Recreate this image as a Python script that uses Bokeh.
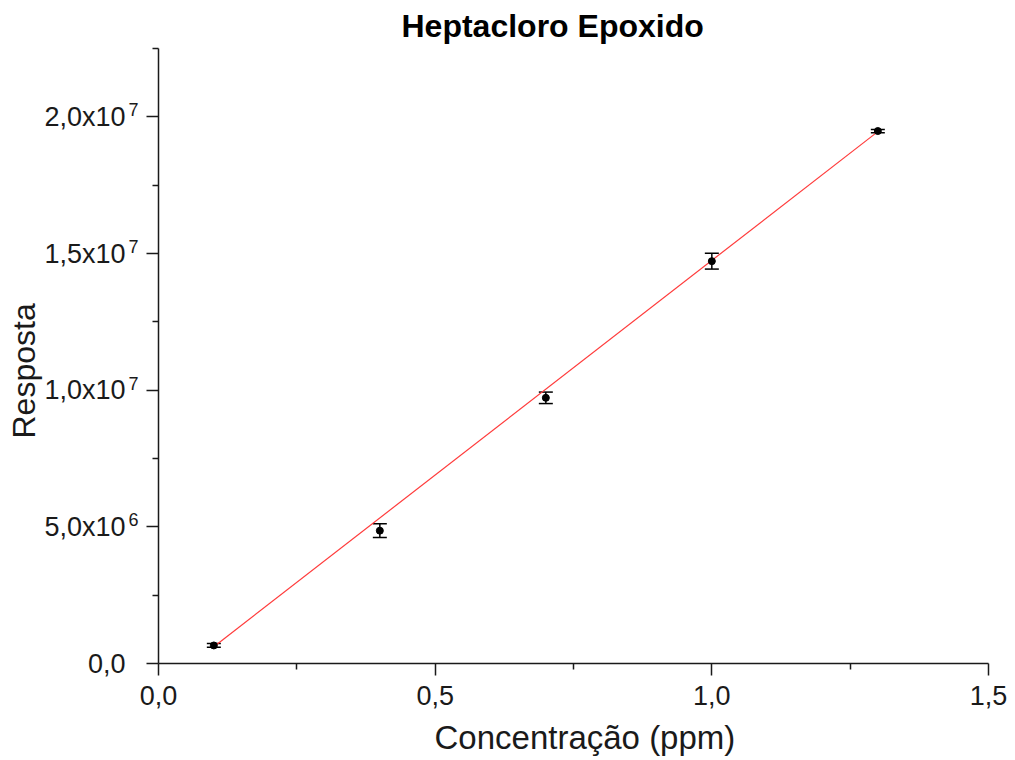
import numpy as np
from bokeh.plotting import figure
from bokeh.models import (Range1d, FixedTicker, CustomJSTickFormatter, Whisker,
                          ColumnDataSource, TeeHead, Title, LinearAxis)
from bokeh.embed import file_html
from bokeh.resources import INLINE

# Calibration data: concentration (ppm), mean response, standard deviation
conc = [0.1, 0.4, 0.7, 1.0, 1.3]
resp = [0.66e6, 4.86e6, 9.72e6, 14.72e6, 19.48e6]
err = [0.07e6, 0.25e6, 0.21e6, 0.29e6, 0.06e6]

x_ticks = [0, 0.5, 1.0, 1.5]
x_minor = [0.25, 0.75, 1.25]
y_ticks = [0, 5e6, 1e7, 1.5e7, 2e7]
y_minor = [2.5e6, 7.5e6, 1.25e7, 1.75e7, 2.25e7]
y_mantissa = ["0,0", "5,0x10", "1,0x10", "1,5x10", "2,0x10"]
y_exponent = ["", "6", "7", "7", "7"]

FONT = "Liberation Sans"
INK = "#1a1a1a"
FRAME_W, FRAME_H = 830, 615
Y_MAX = 2.25e7

# Instrument-weighted linear fit (weights 1/sigma^2)
slope, intercept = np.polyfit(conc, resp, 1, w=1.0 / np.array(err))
fit_x = [min(conc), max(conc)]
fit_y = [slope * v + intercept for v in fit_x]

p = figure(frame_width=FRAME_W, frame_height=FRAME_H,
           x_range=Range1d(0, 1.5), y_range=Range1d(0, Y_MAX),
           output_backend="svg", toolbar_location=None,
           min_border_left=158, min_border_right=27,
           min_border_top=45, min_border_bottom=100)

p.title.text = "Heptacloro Epoxido"
p.title.text_font = FONT
p.title.text_font_size = "32px"
p.title.text_font_style = "bold"
p.title.align = "left"
p.title.offset = 243
p.title.text_color = "black"

p.xgrid.visible = False
p.ygrid.visible = False
p.outline_line_color = None
p.background_fill_color = "white"
p.border_fill_color = "white"

# Exponent labels sit a few pixels above the tick, so they get a shifted range
raise_px = 7
shift = raise_px * Y_MAX / FRAME_H
p.extra_y_ranges = {"exp": Range1d(-shift, Y_MAX - shift)}

p.xaxis.ticker = FixedTicker(ticks=x_ticks, minor_ticks=x_minor)
p.yaxis.ticker = FixedTicker(ticks=y_ticks, minor_ticks=y_minor)
p.xaxis.formatter = CustomJSTickFormatter(code="return tick.toFixed(1).replace('.', ',');")
p.yaxis.formatter = CustomJSTickFormatter(code="return '';")

for ax in (p.xaxis, p.yaxis):
    ax.axis_line_width = 1.5
    ax.axis_line_color = INK
    ax.major_tick_line_width = 1.5
    ax.major_tick_line_color = INK
    ax.minor_tick_line_width = 1.5
    ax.minor_tick_line_color = INK
    ax.major_tick_in = 0
    ax.major_tick_out = 12
    ax.minor_tick_in = 0
    ax.minor_tick_out = 6
    ax.major_label_text_font = FONT
    ax.major_label_text_font_size = "27px"
    ax.major_label_text_color = INK

p.xaxis.major_label_standoff = 10
p.yaxis.major_label_standoff = 0


def label_axis(texts, size, standoff, range_name="default"):
    ax = LinearAxis(y_range_name=range_name,
                    ticker=FixedTicker(ticks=y_ticks, minor_ticks=[]),
                    formatter=CustomJSTickFormatter(
                        args=dict(vals=y_ticks, labs=texts),
                        code="""
                        for (let i = 0; i < vals.length; i++) {
                            if (Math.abs(vals[i] - tick) < 1) return labs[i];
                        }
                        return '';
                        """))
    ax.axis_line_color = None
    ax.major_tick_line_color = None
    ax.minor_tick_line_color = None
    ax.major_tick_in = 0
    ax.major_tick_out = 0
    ax.minor_tick_in = 0
    ax.minor_tick_out = 0
    ax.major_label_standoff = standoff
    ax.major_label_text_font = FONT
    ax.major_label_text_font_size = size
    ax.major_label_text_color = INK
    return ax


# Powers of ten next to the ticks, mantissas further out
p.add_layout(label_axis(y_exponent, "18px", 8, "exp"), "left")
p.add_layout(label_axis(y_mantissa, "27px", 0), "left")

# Axis titles
p.add_layout(Title(text="Concentração (ppm)", align="left", offset=276,
                   vertical_align="top", standoff=22,
                   text_font=FONT, text_font_size="33px", text_font_style="normal",
                   text_color=INK), "below")
p.add_layout(Title(text="Resposta", align="left", offset=225,
                   vertical_align="bottom", standoff=0,
                   text_font=FONT, text_font_size="32px", text_font_style="normal",
                   text_color=INK), "left")

# Fit line
p.line(fit_x, fit_y, line_color="#ff3b3b", line_width=1.2)

# Error bars
src = ColumnDataSource(dict(x=conc, y=resp,
                            upper=[r + e for r, e in zip(resp, err)],
                            lower=[r - e for r, e in zip(resp, err)]))
wk = Whisker(base="x", upper="upper", lower="lower", source=src,
             line_color="black", line_width=1.5,
             upper_head=TeeHead(size=14, line_color="black", line_width=1.5),
             lower_head=TeeHead(size=14, line_color="black", line_width=1.5))
p.add_layout(wk)

p.scatter("x", "y", source=src, size=7, marker="circle",
          fill_color="black", line_color="black")

open("out.html", "w").write(file_html(p, INLINE))
